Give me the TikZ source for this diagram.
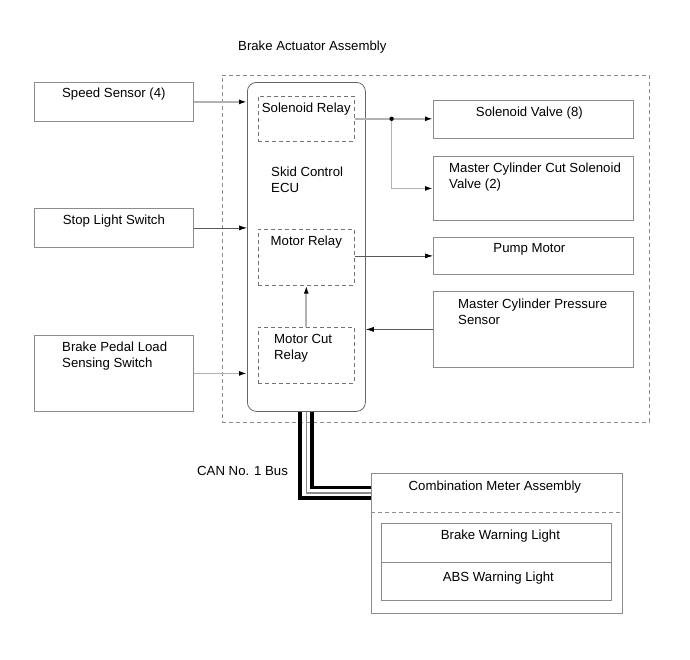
\documentclass[tikz,border=0pt]{standalone}
\usepackage{fontspec}
\setmainfont{Liberation Sans}
\usetikzlibrary{arrows.meta, positioning}

\tikzset{
  box/.style={draw=black!45, line width=0.8pt, anchor=north west, inner sep=0pt},
  relay/.style={draw=black!55, line width=0.6pt, dash pattern=on 4pt off 3pt, anchor=north west, inner sep=0pt},
  txt/.style={inner sep=0pt, align=left},
  sig/.style={draw=black!30, line width=1.7pt, -{Latex[length=8pt, width=5pt, color=black]}},
  sigthin/.style={draw=black!65, line width=0.7pt, -{Latex[length=8pt, width=5pt, color=black]}},
}

\begin{document}
\begin{tikzpicture}[x=1pt, y=-1pt, font=\fontsize{13.2}{15.8}\selectfont]
\useasboundingbox (0,0) rectangle (690,659);

% Brake actuator assembly
\node[relay, draw=black!45, minimum width=427, minimum height=347] (actuator) at (222,75) {};
\node[anchor=base west, inner sep=0pt] (title) at (238,50) {Brake Actuator Assembly};

% Inputs
\node[box, minimum width=159, minimum height=39] (speed) at (34,82) {};
\node[txt, below=6pt of speed.north] (speedtxt) {Speed Sensor (4)};
\node[box, minimum width=159, minimum height=39] (stop) at (34,208) {};
\node[txt, below=7pt of stop.north] (stoptxt) {Stop Light Switch};
\node[box, minimum width=159, minimum height=76] (pedal) at (34,335) {};
\node[txt, below right=7pt and 28pt of pedal.north west] (pedaltxt) {Brake Pedal Load\\Sensing Switch};

% Skid control ECU and relays
\node[box, draw=black!60, rounded corners=9pt, minimum width=118, minimum height=329] (ecu) at (247,82) {};
\node[txt, below right=85pt and 24pt of ecu.north west] (ecutxt) {Skid Control\\ECU};
\node[relay, minimum width=96, minimum height=45] (solrelay) at (258,96) {};
\node[txt, below=7pt of solrelay.north] (solrelaytxt) {Solenoid Relay};
\node[relay, minimum width=96, minimum height=56] (motorrelay) at (258,229) {};
\node[txt, below=7pt of motorrelay.north] (motorrelaytxt) {Motor Relay};
\node[relay, minimum width=96, minimum height=56] (motorcut) at (258,327) {};
\node[txt, below right=7pt and 16pt of motorcut.north west] (motorcuttxt) {Motor Cut\\Relay};

% Outputs
\node[box, minimum width=200, minimum height=38] (solvalve) at (433,100) {};
\node[txt, below=7pt of solvalve.north, xshift=-4pt] (solvalvetxt) {Solenoid Valve (8)};
\node[box, minimum width=200, minimum height=64] (mccut) at (433,156) {};
\node[txt, below right=7pt and 16pt of mccut.north west] (mccuttxt) {Master Cylinder Cut Solenoid\\Valve (2)};
\node[box, minimum width=200, minimum height=37] (pump) at (433,237) {};
\node[txt, below=6pt of pump.north, xshift=-4pt] (pumptxt) {Pump Motor};
\node[box, minimum width=200, minimum height=76] (pressure) at (433,291) {};
\node[txt, below right=8pt and 25pt of pressure.north west] (pressuretxt) {Master Cylinder Pressure\\Sensor};

% Combination meter
\node[box, minimum width=251, minimum height=140] (combo) at (371,473) {};
\node[txt, below=8pt of combo.north, xshift=-2pt] (combotxt) {Combination Meter Assembly};
\draw[black!45, line width=0.6pt, dash pattern=on 4pt off 3pt] ([yshift=-39pt]combo.north west) -- ([yshift=-39pt]combo.north east);
\node[box, minimum width=230, minimum height=39] (brakelamp) at (381,523) {};
\node[txt, below=7pt of brakelamp.north, xshift=4pt] (brakelamptxt) {Brake Warning Light};
\node[box, minimum width=230, minimum height=38] (abslamp) at (381,562) {};
\node[txt, below=10pt of abslamp.north, xshift=2pt] (abslamptxt) {ABS Warning Light};

% Signals into the ECU
\draw[sig] (speed.east) -- (speed.east -| ecu.west);
\draw[sigthin] (stop.east) -- (stop.east -| ecu.west);
\draw[sig] (pedal.east) -- (pedal.east -| ecu.west);
\draw[sigthin] (pressure.west) -- (pressure.west -| ecu.east);

% Signals out of the ECU
\coordinate (split) at ([xshift=37pt]solrelay.east);
\draw[sig] (solrelay.east) -- (solrelay.east -| solvalve.west);
\draw[sig] (split) |- (mccut.west);
\fill (split) circle (2.2pt);
\draw[sigthin] (pump.west -| motorrelay.east) -- (pump.west);
\draw[sig] (motorcut.north) -- (motorrelay.south);

% CAN bus
\coordinate (busin) at ([yshift=-20pt]combo.north west);
\draw[line width=4pt] ([xshift=-6pt]ecu.south) |- ([yshift=-5pt]busin);
\draw[black!45, line width=1.2pt] (ecu.south) |- (busin);
\draw[line width=3.5pt] ([xshift=5.5pt]ecu.south) |- ([yshift=5.5pt]busin);
\node[anchor=base west, inner sep=0pt] (canlabel) at (197,475) {CAN No. 1 Bus};
\end{tikzpicture}
\end{document}
